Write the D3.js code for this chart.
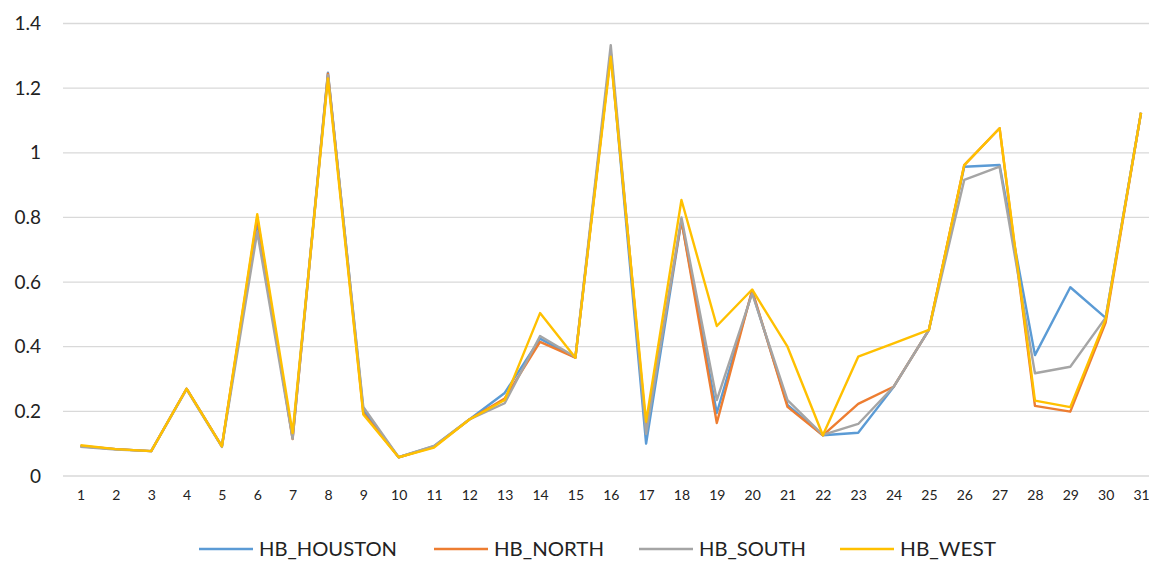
<!DOCTYPE html>
<html><head><meta charset="utf-8">
<script src="https://cdn.jsdelivr.net/npm/d3@7"></script>
<style>body{margin:0;background:#fff;} svg{display:block;font-family:Lato,"Open Sans",sans-serif;}</style>
</head><body>
<svg id="c" width="1149" height="561"></svg>
<script>
const days = d3.range(1, 32).map(String);
const yTicks = [0, 0.2, 0.4, 0.6, 0.8, 1, 1.2, 1.4];
const seriesNames = ["HB_HOUSTON", "HB_NORTH", "HB_SOUTH", "HB_WEST"];
const houston = [0.092,0.083,0.077,0.27,0.092,0.785,0.12,1.248,0.205,0.058,0.092,0.175,0.257,0.425,0.366,1.31,0.1,0.79,0.195,0.57,0.22,0.126,0.134,0.275,0.452,0.957,0.962,0.374,0.584,0.489,1.124];
const north   = [0.093,0.083,0.077,0.27,0.092,0.8,0.114,1.245,0.195,0.058,0.09,0.175,0.24,0.415,0.366,1.31,0.15,0.79,0.164,0.575,0.214,0.126,0.223,0.276,0.452,0.962,1.076,0.217,0.199,0.475,1.124];
const south   = [0.09,0.082,0.077,0.268,0.09,0.755,0.115,1.24,0.214,0.058,0.093,0.175,0.225,0.433,0.368,1.333,0.13,0.8,0.235,0.565,0.235,0.127,0.161,0.276,0.452,0.916,0.957,0.318,0.338,0.49,1.124];
const west    = [0.095,0.083,0.077,0.27,0.092,0.81,0.133,1.23,0.19,0.058,0.088,0.175,0.235,0.504,0.366,1.297,0.168,0.854,0.464,0.577,0.4,0.126,0.369,0.41,0.452,0.962,1.076,0.233,0.213,0.485,1.124];
const colors = ["#5B9BD5", "#ED7D31", "#A5A5A5", "#FFC000"];
const allSeries = [houston, north, south, west];

const svg = d3.select("#c");
const x = d3.scalePoint().domain(days).range([80.5, 1141]);
const y = d3.scaleLinear().domain([0, 1.4]).range([476, 23.5]);

// gridlines
svg.append("g").selectAll("line").data(yTicks).join("line")
  .attr("x1", 63).attr("x2", 1149)
  .attr("y1", d => y(d)).attr("y2", d => y(d))
  .attr("stroke", "#D9D9D9").attr("stroke-width", 1.3);

// y axis labels
const yAxis = d3.axisLeft(y).tickValues(yTicks).tickSize(0).tickPadding(0).tickFormat(d => String(d));
const gy = svg.append("g").attr("transform", "translate(41,0)").call(yAxis);
gy.select(".domain").remove();
gy.selectAll("text").attr("font-size", 19).attr("fill", "#222").attr("font-family", "Lato,'Open Sans',sans-serif");

// x axis labels
const xAxis = d3.axisBottom(x).tickSize(0).tickPadding(0);
const gx = svg.append("g").attr("transform", "translate(0,490)").call(xAxis);
gx.select(".domain").remove();
gx.selectAll("text").attr("font-size", 14).attr("fill", "#222").attr("font-family", "Lato,'Open Sans',sans-serif");

// lines
const line = d3.line().x((d, i) => x(days[i])).y(d => y(d));
svg.append("g").selectAll("path").data(allSeries).join("path")
  .attr("d", d => line(d)).attr("fill", "none")
  .attr("stroke", (d, i) => colors[i]).attr("stroke-width", 2.4)
  .attr("stroke-linejoin", "round");

// legend
const legX = [199, 434, 639, 840];
const legW = [138, 110, 107, 96];
const lg = svg.append("g").selectAll("g").data(seriesNames).join("g")
  .attr("transform", (d, i) => `translate(${legX[i]},549)`);
lg.append("line").attr("x1", 0).attr("x2", 54).attr("y1", 0).attr("y2", 0)
  .attr("stroke", (d, i) => colors[i]).attr("stroke-width", 2.4);
lg.append("text").attr("x", 60).attr("y", 7).text(d => d)
  .attr("font-size", 20).attr("fill", "#222")
  .attr("textLength", (d, i) => legW[i]).attr("lengthAdjust", "spacingAndGlyphs");
</script>
</body></html>
